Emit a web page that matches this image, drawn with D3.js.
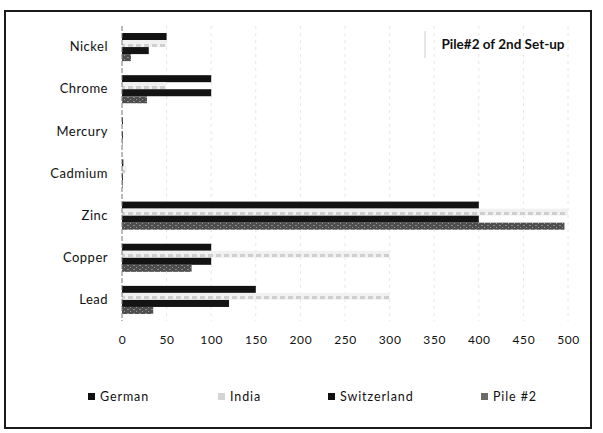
<!DOCTYPE html>
<html>
<head>
<meta charset="utf-8">
<script src="https://cdn.jsdelivr.net/npm/d3@7"></script>
<style>
  html, body { margin: 0; padding: 0; background: #fff; }
  svg { display: block; }
  text { font-family: Lato, "Open Sans", sans-serif; fill: #111; }
</style>
</head>
<body>
<svg id="chart" width="603" height="433"></svg>
<script>
// Heavy metal content (mg/kg) against standards
const categories = ["Nickel", "Chrome", "Mercury", "Cadmium", "Zinc", "Copper", "Lead"];
const seriesNames = ["German", "India", "Switzerland", "Pile #2"];
const german      = [50, 100, 1, 1.5, 400, 100, 150];
const india       = [50, 50, 0.15, 5, 1000, 300, 300];
const switzerland = [30, 100, 1, 1, 400, 100, 120];
const pile2       = [10, 28, 0.5, 0.8, 496, 78, 35];
const xTicks = [0, 50, 100, 150, 200, 250, 300, 350, 400, 450, 500];
const chartTitle = "Pile#2 of 2nd Set-up";

const seriesValues = [german, india, switzerland, pile2];
const seriesFill = ["#111111", "url(#indiaTex)", "#141414", "url(#pileTex)"];
const legendFill = ["#111111", "#d4d4d4", "#111111", "#6a6a6a"];

const svg = d3.select("#chart");
const defs = svg.append("defs");

// speckled texture for the Pile #2 bars
const pat = defs.append("pattern").attr("id", "pileTex")
  .attr("patternUnits", "userSpaceOnUse").attr("width", 6).attr("height", 4);
pat.append("rect").attr("width", 6).attr("height", 4).attr("fill", "#4e4e4e");
pat.append("rect").attr("x", 1).attr("y", 1).attr("width", 2).attr("height", 1).attr("fill", "#8a8a8a");
pat.append("rect").attr("x", 4).attr("y", 3).attr("width", 1).attr("height", 1).attr("fill", "#9a9a9a");

// faint dashed texture for the India bars
const ipat = defs.append("pattern").attr("id", "indiaTex")
  .attr("patternUnits", "userSpaceOnUse").attr("width", 8).attr("height", 7);
ipat.append("rect").attr("width", 8).attr("height", 7).attr("fill", "#f1f1f1");
ipat.append("rect").attr("x", 0).attr("y", 2).attr("width", 5).attr("height", 3).attr("fill", "#cfcfcf");

defs.append("clipPath").attr("id", "plotClip")
  .append("rect").attr("x", 118).attr("y", 20).attr("width", 452).attr("height", 310);

// outer frame
svg.append("rect").attr("x", 5).attr("y", 11).attr("width", 586).attr("height", 417)
  .attr("fill", "none").attr("stroke", "#1a1a1a").attr("stroke-width", 2);

const x = d3.scaleLinear().domain([0, 500]).range([122, 568]);
const y = d3.scaleBand().domain(categories).range([26, 321]).padding(0);
const ySub = d3.scaleBand().domain(seriesNames).range([0, y.bandwidth()]).paddingInner(0).paddingOuter(1.0);

// very light dashed gridlines
svg.append("g").selectAll("line").data(xTicks.slice(1)).join("line")
  .attr("x1", d => x(d)).attr("x2", d => x(d))
  .attr("y1", 26).attr("y2", 321)
  .attr("stroke", "#e6e6e6").attr("stroke-width", 1).attr("stroke-dasharray", "3,4");

// bars
const plot = svg.append("g").attr("clip-path", "url(#plotClip)");
seriesNames.forEach((name, si) => {
  plot.append("g").selectAll("rect")
    .data(categories.map((c, i) => ({ c, v: seriesValues[si][i] })))
    .join("rect")
    .attr("x", x(0))
    .attr("y", d => y(d.c) + ySub(name))
    .attr("width", d => Math.min(x(d.v), x(500)) - x(0))
    .attr("height", ySub.bandwidth())
    .attr("fill", seriesFill[si]);
});

// vertical axis line
svg.append("line").attr("x1", x(0)).attr("x2", x(0)).attr("y1", 26).attr("y2", 321)
  .attr("stroke", "#777").attr("stroke-width", 1).attr("stroke-dasharray", "5,2");

// category labels
const yAxis = d3.axisLeft(y).tickSize(0).tickPadding(14);
const gy = svg.append("g").attr("transform", `translate(${x(0)},0)`).call(yAxis);
gy.select(".domain").remove();
gy.selectAll("text").style("font-family", "Lato, 'Open Sans', sans-serif")
  .style("font-size", "13px").style("letter-spacing", "0.5px").attr("fill", "#111");

// value axis labels
const xAxis = d3.axisBottom(x).tickValues(xTicks).tickSize(0).tickPadding(10);
const gx = svg.append("g").attr("transform", "translate(0,325)").call(xAxis);
gx.select(".domain").remove();
gx.selectAll("text").style("font-family", "Lato, 'Open Sans', sans-serif")
  .style("font-size", "12px").style("letter-spacing", "0.6px").attr("fill", "#111");

// title box
svg.append("line").attr("x1", 425).attr("x2", 425).attr("y1", 31).attr("y2", 58)
  .attr("stroke", "#ccc").attr("stroke-width", 1);
svg.append("text").attr("x", 503).attr("y", 49).attr("text-anchor", "middle")
  .style("font-size", "13.5px").style("font-weight", "bold").text(chartTitle);

// legend
const legendX = [88, 218, 328, 481];
const lg = svg.append("g").selectAll("g").data(seriesNames).join("g")
  .attr("transform", (d, i) => `translate(${legendX[i]},401)`);
lg.append("rect").attr("x", 0).attr("y", -8).attr("width", 7).attr("height", 7)
  .attr("fill", (d, i) => legendFill[i]);
lg.append("text").attr("x", 12).attr("y", 0)
  .style("font-size", "12.5px").style("letter-spacing", "0.9px").text(d => d);
</script>
</body>
</html>
